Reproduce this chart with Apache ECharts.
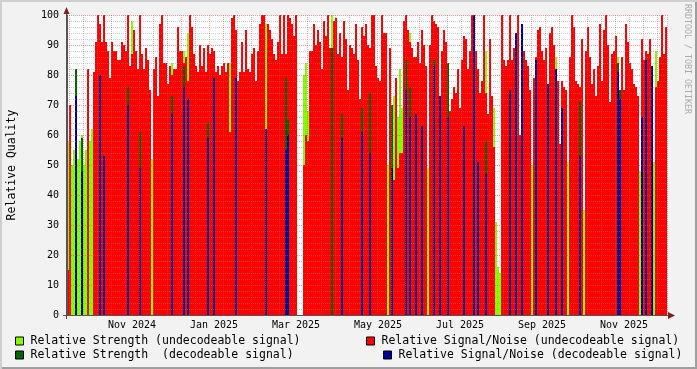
<!DOCTYPE html>
<html>
<head>
<meta charset="utf-8">
<script src="https://cdn.jsdelivr.net/npm/echarts@6/dist/echarts.min.js"></script>
<style>
  html, body { margin: 0; padding: 0; background: #f2f2f2; }
  #chart {
    width: 697px; height: 369px; background: #f2f2f2;
    box-shadow: inset 2px 2px 0 #cfcfcf, inset -2px -2px 0 #9e9e9e;
  }
</style>
</head>
<body>
<div id="chart"></div>
<script>
// one bin = 2 px of the original graph (about 1.5 days)
const binCount = 300;

const monthTicks = [32, 73, 114, 155, 196, 237, 278];
const monthLabels = ['Nov 2024', 'Jan 2025', 'Mar 2025', 'May 2025', 'Jul 2025', 'Sep 2025', 'Nov 2025'];

// Relative Signal/Noise (undecodeable) - one value per bin
const snrUndecodeable = [
  15, 70, 0, 0, 0, 0, 0, 0, 0, 0, 82, 0, 0,
  81, 91, 100, 97, 91, 100, 91, 88, 79, 91, 88, 88, 85, 85, 91, 90, 88, 100, 83, 87,
  95, 88, 82, 100, 87, 82, 89, 85, 75, 0, 82, 86, 73, 97, 100, 84, 84, 77, 83,
  80, 82, 82, 96, 88, 88, 84, 86, 78, 100, 96, 87, 83, 81, 90, 83, 89, 81, 90, 87,
  89, 88, 81, 83, 80, 83, 84, 81, 84, 61, 99, 100, 95, 78, 81, 91, 81, 95, 82, 81,
  87, 89, 78, 88, 97, 100, 100, 62, 97, 95, 92, 87,
  85, 91, 100, 87, 100, 87, 100, 99, 97, 93, 100, 0, 0, 0, 50, 60, 58, 88, 88, 97,
  90, 95, 91, 82, 98, 93, 100, 89, 78, 98, 99, 87, 94, 86, 98, 92, 75, 90, 89, 87,
  97, 85, 72, 96, 93, 97, 90, 89, 100, 100, 83, 79,
  78, 100, 94, 94, 0, 89, 50, 45, 79, 49, 54, 54, 98, 100, 95, 91, 89, 86, 86, 91,
  84, 95, 90, 83, 0, 90, 100, 98, 97, 96, 73, 88, 95, 91, 84, 68, 72, 76, 74, 82,
  69, 85, 93, 92, 82, 88, 100, 88, 88, 82, 74,
  78, 100, 74, 67, 92, 73, 56, 0, 0, 0, 100, 85, 83, 85, 100, 85, 89, 89, 100, 60,
  97, 88, 85, 83, 75, 0, 79, 86, 95, 96, 88, 85, 89, 77, 94, 96, 90, 65, 78, 57,
  78, 76, 75, 0, 86, 100, 96, 78, 77, 76, 92, 0,
  88, 96, 86, 77, 82, 73, 83, 97, 78, 95, 100, 90, 71, 87, 88, 93, 81, 75, 86, 75,
  97, 91, 84, 82, 77, 76, 73, 0, 92, 85, 88, 87, 92, 79, 0, 76, 78, 86, 100, 87, 96
];

// sparse series: [bin, value]
const strengthUndecodeable = [
  [0, 58], [1, 52], [2, 50], [3, 55], [4, 50], [5, 52], [6, 58], [7, 60], [8, 50], [9, 55],
  [10, 60], [11, 58], [12, 62], [30, 88], [32, 98], [42, 52],
  [52, 84], [58, 88], [60, 94], [70, 87], [73, 87], [81, 84], [84, 88], [99, 97],
  [105, 85], [118, 80], [119, 84], [120, 68], [132, 100], [137, 85], [151, 89],
  [160, 50], [162, 65], [163, 73], [164, 60], [165, 66], [166, 82], [167, 69], [169, 88],
  [171, 94], [180, 49], [183, 87],
  [209, 88], [213, 69], [214, 31], [215, 16], [216, 14], [232, 50], [244, 86], [250, 51], [258, 35],
  [275, 86], [278, 73], [286, 48], [287, 78], [293, 51], [294, 88], [296, 86]
];

const strengthDecodeable = [
  [4, 82], [7, 59], [30, 76], [36, 61], [52, 73], [58, 83], [70, 64], [109, 79], [110, 65],
  [132, 89], [137, 67], [147, 69], [151, 74], [162, 70], [169, 85], [171, 76], [183, 85],
  [190, 84], [209, 58], [244, 66], [256, 71], [275, 84], [276, 75]
];

const snrDecodeable = [
  [4, 73], [7, 48], [16, 80], [18, 53], [30, 70], [36, 49], [52, 67], [58, 76], [60, 72],
  [70, 59], [73, 79], [84, 79], [99, 62],
  [109, 55], [110, 60], [137, 59], [147, 61], [151, 54],
  [162, 49], [169, 75], [171, 66], [174, 67], [177, 63], [183, 83], [186, 73], [190, 66],
  [198, 63], [203, 100], [205, 51],
  [209, 47], [221, 75], [224, 94], [227, 97], [234, 85], [240, 77], [244, 82], [247, 69], [256, 53],
  [275, 81], [276, 72], [287, 66], [289, 85], [292, 83]
];

const names = [
  'Relative Strength (undecodeable signal)',
  'Relative Signal/Noise (undecodeable signal)',
  'Relative Strength  (decodeable signal)',
  'Relative Signal/Noise (decodeable signal)'
];
const colors = ['#7FFF00', '#FF0000', '#006400', '#000099'];

const mono = 'DejaVu Sans Mono';

function expand(pairs) {
  const out = new Array(binCount).fill(null);
  pairs.forEach(([i, v]) => { out[i] = v; });
  return out;
}

const categories = Array.from({ length: binCount }, (_, i) => String(i));

const makeBar = (name, color, data) => ({
  name: name,
  type: 'bar',
  data: data,
  barWidth: '100%',
  barGap: '-100%',
  barCategoryGap: 0,
  itemStyle: { color: color },
  silent: true
});

const chart = echarts.init(document.getElementById('chart'));

const legendBase = {
  orient: 'horizontal',
  icon: 'rect',
  itemWidth: 8,
  itemHeight: 8,
  padding: 0,
  selectedMode: false,
  itemStyle: { borderColor: '#000', borderWidth: 1 },
  textStyle: { fontFamily: mono, fontSize: 11.5, color: '#000', padding: [0, 0, 0, 2] }
};

const option = {
  animation: false,
  grid: {
    left: 67, top: 15, width: 600, height: 300,
    outerBoundsMode: 'none',
    show: true, backgroundColor: '#fff', borderWidth: 0
  },
  legend: [
    Object.assign({}, legendBase, { data: [names[0]], left: 15, top: 335 }),
    Object.assign({}, legendBase, { data: [names[1]], left: 366, top: 335 }),
    Object.assign({}, legendBase, { data: [names[2]], left: 15, top: 349 }),
    Object.assign({}, legendBase, { data: [names[3]], left: 383, top: 349 })
  ],
  xAxis: {
    type: 'category',
    data: categories,
    boundaryGap: true,
    z: 3,
    axisLine: { show: true, lineStyle: { color: '#555', width: 1 } },
    axisTick: { show: false },
    axisLabel: {
      interval: (i) => monthTicks.indexOf(i) >= 0,
      formatter: (v, i) => {
        const k = monthTicks.indexOf(Number(v));
        return k >= 0 ? monthLabels[k] : '';
      },
      fontFamily: mono, fontSize: 10, color: '#000', margin: 5
    },
    splitLine: {
      show: true,
      interval: (i) => i > 0 && (i - 1) % 7 === 0,
      lineStyle: { color: 'rgba(222,79,79,0.45)', type: [1, 1], width: 1 }
    }
  },
  yAxis: {
    type: 'value',
    min: 0, max: 100, interval: 10,
    z: 3,
    name: 'Relative Quality',
    nameLocation: 'middle',
    nameGap: 49,
    nameTextStyle: { fontFamily: mono, fontSize: 11.5, color: '#000' },
    axisLine: { show: true, lineStyle: { color: '#555', width: 1 } },
    axisTick: { show: false },
    axisLabel: { fontFamily: mono, fontSize: 10, color: '#000', margin: 8 },
    splitLine: { show: true, lineStyle: { color: 'rgba(222,79,79,0.6)', type: [1, 1], width: 1 } },
    minorTick: { show: false, splitNumber: 5 },
    minorSplitLine: { show: true, lineStyle: { color: 'rgba(143,143,143,0.45)', type: [1, 1], width: 1 } }
  },
  series: [
    makeBar(names[0], colors[0], expand(strengthUndecodeable)),
    makeBar(names[1], colors[1], snrUndecodeable),
    makeBar(names[2], colors[2], expand(strengthDecodeable)),
    makeBar(names[3], colors[3], expand(snrDecodeable))
  ],
  graphic: [
    // axis extensions and arrows (rrdtool style)
    { type: 'line', z: 10, shape: { x1: 63, y1: 315.5, x2: 669, y2: 315.5 }, style: { stroke: '#555', lineWidth: 1 } },
    { type: 'line', z: 10, shape: { x1: 66.5, y1: 13, x2: 66.5, y2: 319 }, style: { stroke: '#555', lineWidth: 1 } },
    { type: 'polygon', z: 10, shape: { points: [[668, 312], [675, 315.5], [668, 319]] }, style: { fill: '#801f1f' } },
    { type: 'polygon', z: 10, shape: { points: [[63.5, 14], [66.5, 7], [69.5, 14]] }, style: { fill: '#801f1f' } },
    {
      type: 'text', x: 687, y: 4, rotation: -Math.PI / 2,
      style: {
        text: 'RRDTOOL / TOBI OETIKER', fontFamily: mono, fontSize: 8.3,
        fill: '#aaaaaa', align: 'left', verticalAlign: 'middle'
      }
    }
  ]
};

chart.setOption(option);
</script>
</body>
</html>
